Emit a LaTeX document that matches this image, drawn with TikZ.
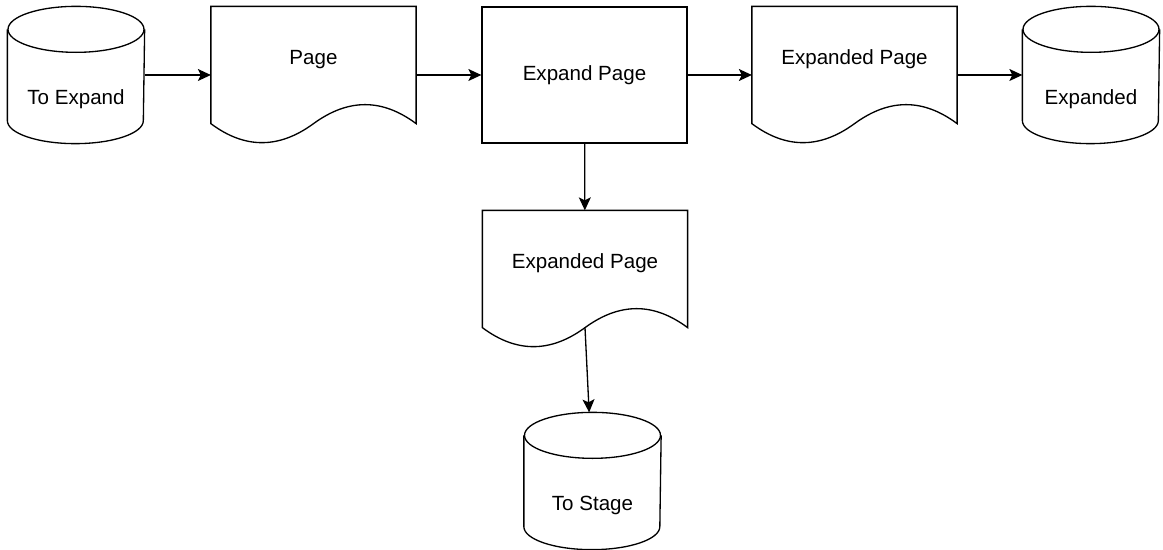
\documentclass[tikz,border=0pt]{standalone}
\usepackage{fontspec}
\setmainfont{Liberation Sans}
\usetikzlibrary{arrows.meta}

% outline of a database (cylinder) node
\newcommand{\dbshape}[1]{%
  \draw ([yshift=-0.46cm]#1.north) ellipse [x radius=1.36cm, y radius=0.46cm];
  \draw ([yshift=-0.46cm]#1.north west) -- ([yshift=0.46cm]#1.south west)
    arc[start angle=180, end angle=360, x radius=1.36cm, y radius=0.46cm]
    -- ([yshift=-0.46cm]#1.north east);
}
% outline of a document node, with a coordinate in the middle of its wave
\newcommand{\docshape}[1]{%
  \draw (#1.north west) -- (#1.north east) -- ([yshift=0.4cm]#1.south east)
    .. controls ([xshift=-0.68cm, yshift=0.907cm]#1.south east)
       and ([xshift=-1.36cm, yshift=0.907cm]#1.south east) .. ([yshift=0.4cm]#1.south)
    .. controls ([xshift=1.36cm, yshift=-0.107cm]#1.south west)
       and ([xshift=0.68cm, yshift=-0.107cm]#1.south west) .. ([yshift=0.4cm]#1.south west)
    -- cycle;
  \coordinate (#1-mid) at ([yshift=0.4cm]#1.south);
}

\begin{document}
\begin{tikzpicture}[x=0.02cm, y=-0.02cm, line width=0.75pt,
  font=\fontsize{11.7}{14}\selectfont,
  db/.style={inner sep=0pt, minimum width=2.72cm, minimum height=2.72cm, text height=1.18cm, text depth=0pt},
  doc/.style={inner sep=0pt, minimum width=4.08cm, minimum height=2.72cm, text height=0.3cm, text depth=0.724cm},
  proc/.style={draw, inner sep=0pt, minimum width=4.1cm, minimum height=2.72cm},
  flow/.style={-{Stealth[length=0.26cm, width=0.24cm, inset=0.06cm]}}]
\useasboundingbox (0,0) rectangle (1163,550);
\node[db] (toexpand) at (76,75) {To Expand};
\node[doc] (page) at (313.5,75) {Page};
\node[proc] (expand) at (584.5,75) {Expand Page};
\node[doc] (expanded1) at (854.5,75) {Expanded Page};
\node[db] (expanded) at (1091,75) {Expanded};
\node[doc] (expanded2) at (585,279) {Expanded Page};
\node[db] (tostage) at (592.5,481) {To Stage};
\dbshape{toexpand}
\dbshape{expanded}
\dbshape{tostage}
\docshape{page}
\docshape{expanded1}
\docshape{expanded2}
\draw[flow] (toexpand) -- (page);
\draw[flow] (page) -- (expand);
\draw[flow] (expand) -- (expanded1);
\draw[flow] (expanded1) -- (expanded);
\draw[flow] (expand) -- (expanded2);
\draw[flow] (expanded2-mid) -- (tostage);
\end{tikzpicture}
\end{document}
